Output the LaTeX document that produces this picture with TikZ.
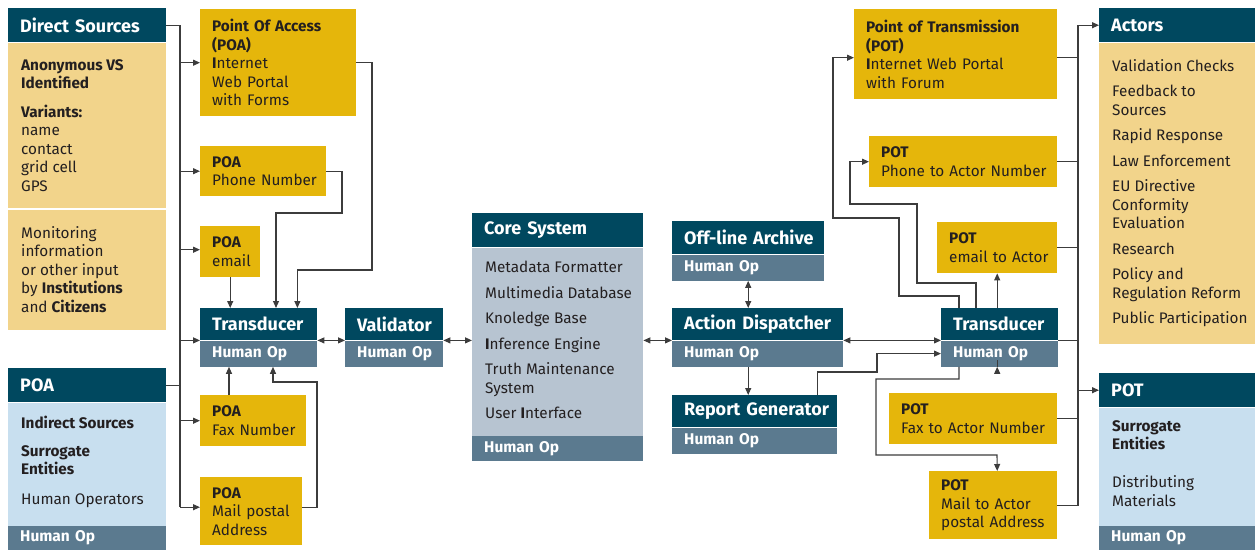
\documentclass[tikz,border=0pt]{standalone}
\usepackage{fontspec}
\setmainfont{Fira Sans}
\usetikzlibrary{positioning,arrows.meta}

\definecolor{hdcol}{HTML}{00485F}
\definecolor{opcol}{HTML}{5B7A8F}
\definecolor{tancol}{HTML}{F2D48B}
\definecolor{yelcol}{HTML}{E5B60B}
\definecolor{bluecol}{HTML}{C8DFEF}
\definecolor{corecol}{HTML}{B7C4D1}
\definecolor{txtcol}{HTML}{231F20}
\definecolor{linecol}{HTML}{3C3C3C}

\newcommand{\nobreaks}{\hyphenpenalty=10000\exhyphenpenalty=10000\relax}
\newcommand{\bodyfont}{\fontsize{15.3}{18.5}\selectfont\nobreaks}
\newcommand{\headfont}{\fontsize{18}{20}\selectfont\bfseries\nobreaks}
\newcommand{\opfont}{\fontsize{15.5}{18.5}\selectfont\bfseries\nobreaks}

\begin{document}
\begin{tikzpicture}[
    x=1pt, y=-1pt,
    head/.style={anchor=north west, fill=hdcol, text=white, font=\headfont, inner xsep=12pt, inner ysep=0pt, align=left},
    op/.style={fill=opcol, text=white, font=\opfont, inner xsep=12pt, inner ysep=0pt, align=left, minimum height=26pt},
    feed/.style={anchor=north west, fill=yelcol, text=txtcol, font=\bodyfont, inner xsep=12pt, inner ysep=0pt, align=left},
    panel/.style={anchor=north west, inner sep=0pt},
    body/.style={anchor=north west, inner sep=0pt, text=txtcol, font=\bodyfont, align=left, execute at begin node={\rule{0pt}{12pt}}},
    link/.style={line width=1.1pt, draw=linecol},
    arrow/.style={link, -{Triangle[length=7pt,width=6pt]}},
    darrow/.style={link, {Triangle[length=7pt,width=6pt]}-{Triangle[length=7pt,width=6pt]}}
]
    \useasboundingbox (0,0) rectangle (1255,549);

    % Left panels
    \node[head, text width=134pt, minimum height=34pt] (dshd) at (8,8) {Direct~Sources};
    \node[panel, fill=tancol, minimum width=158pt, minimum height=165pt, below=0pt of dshd] (dsbody) {};
    \node[panel, fill=tancol, minimum width=158pt, minimum height=120pt] (monbody) at (8,210) {};
    \node[body] (dstxt) at (21,59) {\textbf{Anonymous VS}\\\textbf{Identified}\\[10pt]\textbf{Variants:}\\name\\contact\\grid cell\\GPS};
    \node[body] (montxt) at (21,226) {Monitoring\\information\\or other input\\by \textbf{Institutions}\\and \textbf{Citizens}};

    \node[head, text width=134pt, minimum height=34pt] (poahd) at (8,368) {POA};
    \node[panel, fill=bluecol, minimum width=158pt, minimum height=123pt, below=0pt of poahd] (poabody) {};
    \node[op, text width=134pt, minimum height=24pt, below=0pt of poabody] (poaop) {Human~Op};
    \node[body] (poatxt) at (21,416) {\textbf{Indirect Sources}\\[9pt]\textbf{Surrogate}\\\textbf{Entities}\\[11pt]Human Operators};

    % Points of access
    \node[feed, text width=132pt, minimum height=107pt] (poai) at (200,9) {\textbf{Point Of Access}\\\textbf{(POA)}\\\textbf{I}nternet\\Web Portal\\with Forms};
    \node[feed, text width=102pt, minimum height=50pt] (poap) at (200,146) {\textbf{POA}\\Phone~Number};
    \node[feed, text width=36pt, minimum height=51pt] (poae) at (200,226) {\textbf{POA}\\email};
    \node[feed, text width=82pt, minimum height=51pt] (poaf) at (200,395) {\textbf{POA}\\Fax~Number};
    \node[feed, text width=78pt, minimum height=68pt] (poam) at (200,477) {\textbf{POA}\\Mail~postal\\Address};

    % Processing chain
    \node[head, text width=93pt, minimum height=32pt] (tl) at (200,308) {Transducer};
    \node[op, text width=93pt, below=0pt of tl] (tlop) {Human~Op};
    \node[head, text width=74pt, minimum height=32pt] (val) at (345,308) {Validator};
    \node[op, text width=74pt, below=0pt of val] (valop) {Human~Op};

    \node[head, text width=147pt, minimum height=34pt] (corehd) at (472,213) {Core~System};
    \node[panel, fill=corecol, minimum width=171pt, minimum height=188pt, below=0pt of corehd] (corebody) {};
    \node[op, text width=147pt, minimum height=25pt, below=0pt of corebody] (coreop) {Human~Op};
    \node[body] (coretxt) at (485,261) {Metadata Formatter\\[7pt]Multimedia Database\\[7pt]Knoledge Base\\[7pt]\textbf{I}nference Engine\\[7pt]Truth Maintenance\\System\\[7pt]User \textbf{I}nterface};

    \node[head, text width=128pt, minimum height=33pt] (ar) at (672,221) {Off-line~Archive};
    \node[op, text width=128pt, below=0pt of ar] (arop) {Human~Op};
    \node[head, text width=147pt, minimum height=32pt] (ad) at (672,308) {Action~Dispatcher};
    \node[op, text width=147pt, below=0pt of ad] (adop) {Human~Op};
    \node[head, text width=141pt, minimum height=32pt] (rg) at (672,395) {Report~Generator};
    \node[op, text width=141pt, below=0pt of rg] (rgop) {Human~Op};

    \node[head, text width=93pt, minimum height=32pt] (tr) at (941,308) {Transducer};
    \node[op, text width=93pt, below=0pt of tr] (trop) {Human~Op};

    % Points of transmission
    \node[feed, text width=179pt, minimum height=90pt] (pot1) at (854,9) {\textbf{Point of Transmission}\\\textbf{(POT)}\\\textbf{I}nternet Web Portal\\with Forum};
    \node[feed, text width=164pt, minimum height=51pt] (pot2) at (869,136) {\textbf{POT}\\Phone~to~Actor~Number};
    \node[feed, text width=96pt, minimum height=51pt] (pote) at (937,222) {\textbf{POT}\\email~to~Actor};
    \node[feed, text width=144pt, minimum height=51pt] (potf) at (889,393) {\textbf{POT}\\Fax~to~Actor~Number};
    \node[feed, text width=104pt, minimum height=68pt] (pom) at (929,471) {\textbf{POT}\\Mail~to~Actor\\postal~Address};

    % Right panels
    \node[head, text width=132pt, minimum height=34pt] (acthd) at (1099,8) {Actors};
    \node[panel, fill=tancol, minimum width=156pt, minimum height=301pt, below=0pt of acthd] (actbody) {};
    \node[body] (acttxt) at (1112,59) {Validation Checks\\[7pt]Feedback to\\Sources\\[7pt]Rapid Response\\[7pt]Law Enforcement\\[7pt]EU Directive\\Conformity\\Evaluation\\[7pt]Research\\[7pt]Policy and\\Regulation Reform\\[7pt]Public Participation};

    \node[head, text width=132pt, minimum height=34pt] (pothd) at (1099,373) {POT};
    \node[panel, fill=bluecol, minimum width=156pt, minimum height=118pt, below=0pt of pothd] (potbody) {};
    \node[op, text width=132pt, minimum height=24pt, below=0pt of potbody] (potop) {Human~Op};
    \node[body] (pottxt) at (1112,420) {\textbf{Surrogate}\\\textbf{Entities}\\[19.5pt]Distributing\\Materials};

    \coordinate (lbus) at (180,0);
    \coordinate (rbus) at (1078,0);

    % Connections, left side
    \draw[link] (dshd.east) -| ([yshift=4pt]poam.west -| lbus);
    \draw[link] (poahd.east) -- (poahd.east -| lbus);
    \draw[arrow] (poai.west -| lbus) -- (poai.west);
    \draw[arrow] (poap.west -| lbus) -- (poap.west);
    \draw[arrow] ([yshift=2pt]poae.west -| lbus) -- ([yshift=2pt]poae.west);
    \draw[arrow] (tl.south west -| lbus) -- (tl.south west);
    \draw[arrow] (poaf.west -| lbus) -- (poaf.west);
    \draw[arrow] ([yshift=4pt]poam.west -| lbus) -- ([yshift=4pt]poam.west);

    \draw[arrow] (poai.east) -| (372,270) -| ([xshift=-20pt]tl.north east);
    \draw[arrow] (poap.east) -| (342,213) -| ([xshift=76pt]tl.north west);
    \draw[arrow] (poae.south) -- (poae.south |- tl.north);
    \draw[arrow] ([xshift=29pt]poaf.north west) -- ([xshift=29pt]tlop.south west);
    \draw[arrow] ([yshift=4pt]poam.east) -| (317,382) -| ([xshift=73pt]tlop.south west);

    % Connections, middle
    \draw[darrow] (tl.south east) -- (val.south west);
    \draw[darrow] (val.south east) -- (val.south east -| corebody.west);
    \draw[darrow] (corebody.east |- ad.south west) -- (ad.south west);
    \draw[darrow] (arop.south) -- (arop.south |- ad.north);
    \draw[arrow] (arop.south |- adop.south) -- (arop.south |- rg.north);
    \draw[darrow] (ad.south east) -- (tr.south west);
    \draw[arrow] ([xshift=-20pt]rg.north east) |- (877,372) |- (trop.west);

    % Connections, right side
    \draw[arrow] ([xshift=18pt]tr.north west) |- (899,296) |- (833,218) |- ([yshift=-3.5pt]pot1.west);
    \draw[arrow] ([xshift=35pt]tr.north west) |- (917,283) |- (850,204) |- (pot2.west);
    \draw[arrow] (tr.north -| pote.south) -- (pote.south);
    \draw[arrow] (trop.south -| pote.south) -- (trop.south -| pote.south |- potf.north);
    \draw[arrow] ([xshift=18pt]trop.south west) |- (876,379) |- (997,455) -- (pom.north -| pote.south);

    \draw[arrow] (pom.east) -| (rbus |- acthd.west) -- (acthd.west);
    \draw[link] ([yshift=-3.5pt]pot1.east) -- ([yshift=-3.5pt]pot1.east -| rbus);
    \draw[link] (pot2.east) -- (pot2.east -| rbus);
    \draw[link] (pote.east) -- (pote.east -| rbus);
    \draw[link] (tr.south east) -- (tr.south east -| rbus);
    \draw[link] (potf.east) -- (potf.east -| rbus);
    \draw[arrow] (pothd.west -| rbus) -- (pothd.west);
\end{tikzpicture}
\end{document}
